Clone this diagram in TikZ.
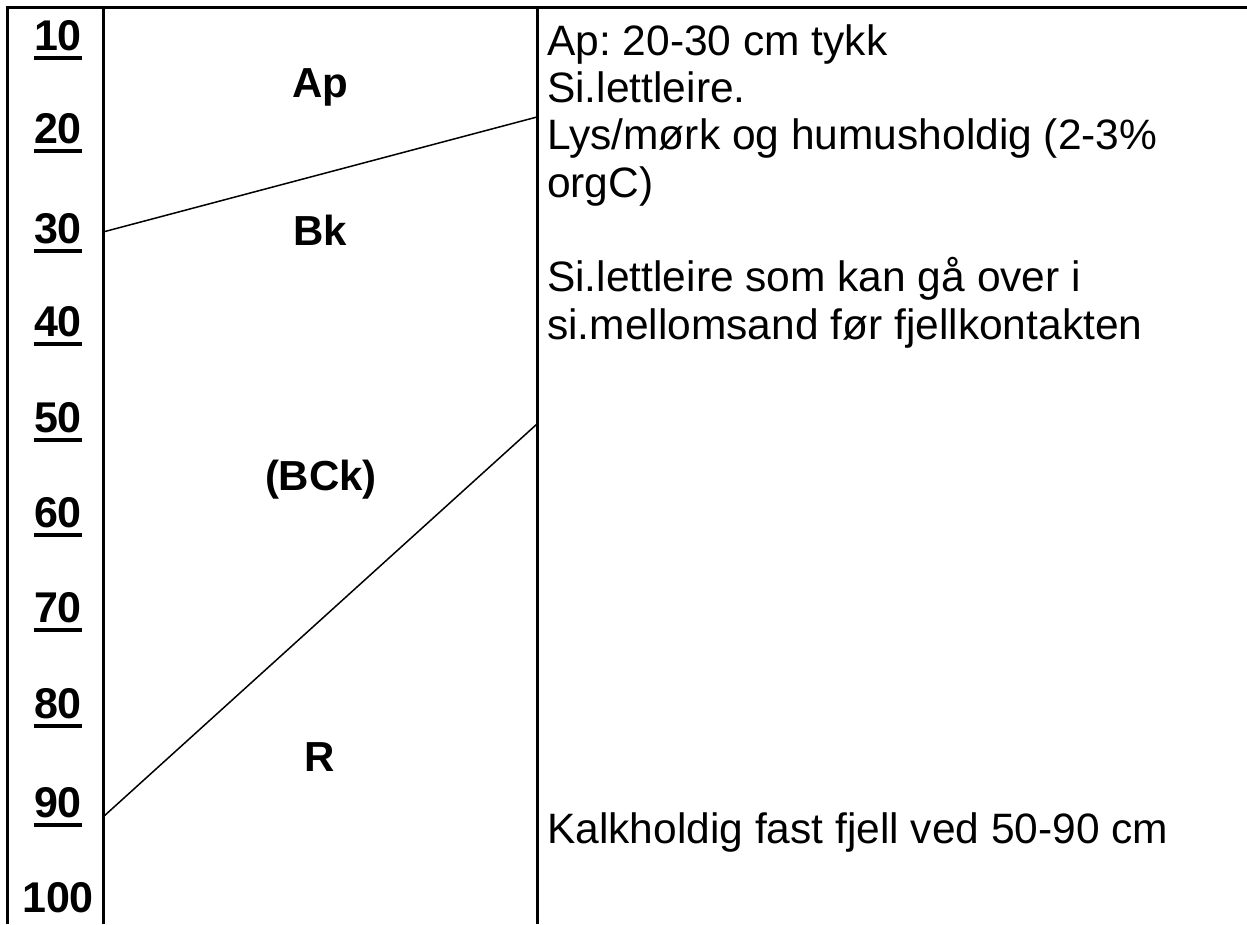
\documentclass[tikz,border=0pt]{standalone}
\usepackage{fontspec}
\setmainfont{Liberation Sans}
\usetikzlibrary{positioning}
\frenchspacing
\newcommand{\depthmark}[1]{\setbox0\hbox{#1}\rlap{\raisebox{-9.5pt}{\rule{\wd0}{3.6pt}}}\box0}
\tikzset{
    depthLabel/.style={anchor=base, inner sep=0pt, font=\fontsize{43}{47}\selectfont\bfseries},
    horizonLabel/.style={anchor=base, inner sep=0pt, font=\fontsize{42}{47}\selectfont\bfseries},
    descText/.style={anchor=base west, inner sep=0pt, align=left, font=\fontsize{42.5}{47.3}\selectfont},
    frameLine/.style={line width=3pt},
    boundaryLine/.style={line width=1.5pt}
}

\begin{document}
\begin{tikzpicture}[x=1pt, y=-1pt]
    \useasboundingbox (0,0) rectangle (1247,924);

    % frame
    \coordinate (topL) at (5.5,7);
    \coordinate (topR) at (1247,7);
    \coordinate (leftT) at (7,7);
    \coordinate (leftB) at (7,924);
    \coordinate (scaleT) at (103,7);
    \coordinate (scaleB) at (103,924);
    \coordinate (descT) at (537,7);
    \coordinate (descB) at (537,924);
    \draw[frameLine] (topL) -- (topR);
    \draw[frameLine] (leftT) -- (leftB);
    \draw[frameLine] (scaleT) -- (scaleB);
    \draw[frameLine] (descT) -- (descB);

    % depth scale
    \foreach \d/\y in {10/50, 20/143, 30/243, 40/336, 50/432, 60/527, 70/622, 80/718, 90/817}
        \node[depthLabel] (d\d) at (58,\y) {\depthmark{\d}};
    \node[depthLabel] (d100) at (58,912) {100};

    % horizon boundaries
    \coordinate (apL) at (103,232);
    \coordinate (apR) at (537,117);
    \coordinate (rL) at (103,817);
    \coordinate (rR) at (537,424);
    \draw[boundaryLine] (apL) -- (apR);
    \draw[boundaryLine] (rL) -- (rR);

    % horizons
    \node[horizonLabel] (ap) at (320,97) {Ap};
    \node[horizonLabel] (bk) at (320,245) {Bk};
    \node[horizonLabel] (bck) at (321,490) {(BCk)};
    \node[horizonLabel] (r) at (320,771) {R};

    % descriptions (base = last line)
    \node[descText] (apText) at (547,197) {Ap: 20-30 cm tykk\\Si.lettleire.\\Lys/mørk og humusholdig (2-3\%\\orgC)};
    \node[descText] (bkText) at (547,339) {Si.lettleire som kan gå over i\\si.mellomsand før fjellkontakten};
    \node[descText] (rText) at (547,843) {Kalkholdig fast fjell ved 50-90 cm};
\end{tikzpicture}
\end{document}
